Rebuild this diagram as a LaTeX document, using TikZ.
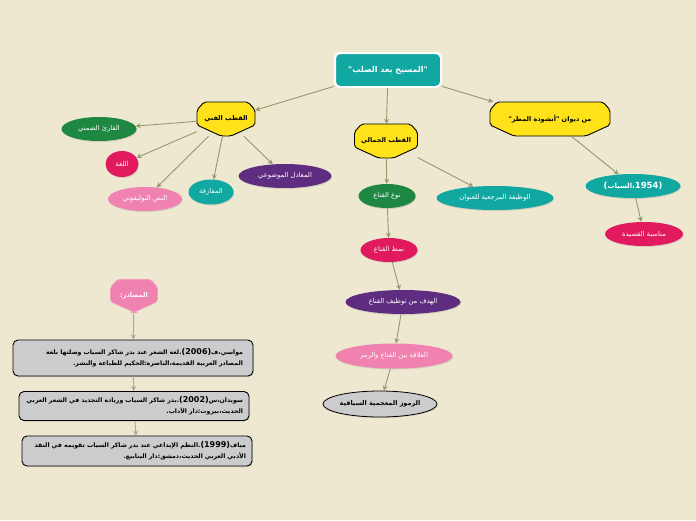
\documentclass[tikz,border=0pt]{standalone}
\usepackage{fontspec}
\newfontfamily\arabicfont[Script=Arabic]{DejaVu Sans}
\newfontfamily\latinfont{DejaVu Sans}
\TeXXeTstate=1
\usetikzlibrary{arrows.meta,shapes.geometric,shadows,calc}

\definecolor{paper}{RGB}{238,232,209}
\definecolor{tealc}{RGB}{18,168,162}
\definecolor{greenc}{RGB}{30,136,66}
\definecolor{crimc}{RGB}{225,25,95}
\definecolor{pinkc}{RGB}{240,130,175}
\definecolor{purpc}{RGB}{95,45,128}
\definecolor{yelc}{RGB}{255,226,26}
\definecolor{greyc}{RGB}{204,204,206}
\definecolor{linkc}{RGB}{145,156,108}

\newcommand\ar[1]{\beginR #1\endR}

\tikzset{
	link/.style={draw=linkc, line width=0.9pt, -{Stealth[length=5pt,width=5pt]}},
	srclink/.style={draw=gray!70, line width=0.9pt, -{Stealth[length=5pt,width=5pt]}},
	bubble/.style={ellipse, inner sep=0pt, text=white,
		font=\arabicfont\fontsize{6.8}{8}\selectfont,
		drop shadow={shadow xshift=0.6pt, shadow yshift=-1pt, opacity=0.25}},
	shieldtext/.style={inner sep=0pt, font=\arabicfont\bfseries\fontsize{6.5}{8}\selectfont},
	refbox/.style={draw=black, line width=0.9pt, fill=greyc, rounded corners=5pt,
		align=right, inner sep=0pt,
		font=\arabicfont\bfseries\fontsize{6.2}{11}\selectfont,
		drop shadow={shadow xshift=0.8pt, shadow yshift=-1pt, opacity=0.3}}
}

% #1 name, #2 x, #3 y, #4 w, #5 h, #6 fill, #7 border, #8 text
\newcommand\shieldbox[8]{%
	\filldraw[line width=0.9pt, fill=#6, draw=#7, rounded corners=2pt]
	($(#2,#3)+(-#4/2+7,-#5/2)$) -- ($(#2,#3)+(#4/2-7,-#5/2)$)
	-- ($(#2,#3)+(#4/2,-#5/2+8)$) -- ($(#2,#3)+(#4/2,#5/2-11)$)
	-- ($(#2,#3)+(#4/2-24,#5/2)$) -- ($(#2,#3)+(-#4/2+24,#5/2)$)
	-- ($(#2,#3)+(-#4/2,#5/2-11)$) -- ($(#2,#3)+(-#4/2,-#5/2+8)$) -- cycle;
	\node[shieldtext, minimum width=#4pt, minimum height=#5pt] (#1) at (#2,#3) {#8};
}

\begin{document}
\begin{tikzpicture}[x=1pt,y=-1pt]
	\fill[paper] (0,0) rectangle (696,520);
	\useasboundingbox (0,0) rectangle (696,520);

	\node[draw=white, line width=2pt, fill=tealc, rounded corners=5pt,
	minimum width=106pt, minimum height=34pt, text=white,
	font=\arabicfont\bfseries\fontsize{8}{9}\selectfont,
	drop shadow={shadow xshift=0.6pt, shadow yshift=-1pt, opacity=0.25}]
	(title) at (388,70) {\ar{"المسيح بعد الصلب"}};

	\shieldbox{fanni}{226}{119}{58}{34}{yelc}{black}{\ar{القطب الفني}}
	\shieldbox{jamali}{386}{141}{63}{34}{yelc}{black}{\ar{القطب الجمالي}}
	\shieldbox{diwan}{550}{119}{120}{34}{yelc}{black}{\ar{من ديوان "أنشودة المطر"}}
	\shieldbox{masadir}{134}{296}{47}{33}{pinkc}{pinkc!80!white}{\color{white}\ar{المصادر:}}

	\node[bubble, fill=greenc, minimum width=75pt, minimum height=24pt] (qari) at (99,129) {\ar{القارئ الضمني}};
	\node[bubble, fill=crimc, minimum width=33pt, minimum height=26pt] (lugha) at (122,164) {\ar{اللغة}};
	\node[bubble, fill=pinkc, minimum width=74pt, minimum height=24pt] (nass) at (145,199) {\ar{النص البوليفوني}};
	\node[bubble, fill=tealc, minimum width=45pt, minimum height=25pt] (mufaraqa) at (211,192) {\ar{المفارقة}};
	\node[bubble, fill=purpc, minimum width=93pt, minimum height=24pt] (muadil) at (285,176) {\ar{المعادل الموضوعي}};

	\node[bubble, fill=greenc, minimum width=57pt, minimum height=24pt] (naw) at (387,196) {\ar{نوع القناع}};
	\node[bubble, fill=tealc, minimum width=117pt, minimum height=24pt] (wazifa) at (495,198) {\ar{الوظيفة المرجعية للعنوان}};
	\node[bubble, fill=crimc, minimum width=57pt, minimum height=24pt] (namat) at (389,250) {\ar{نمط القناع}};
	\node[bubble, fill=purpc, minimum width=115pt, minimum height=24pt] (hadaf) at (403,302) {\ar{الهدف من توظيف القناع}};
	\node[bubble, fill=pinkc, minimum width=117pt, minimum height=25pt] (alaqa) at (394,356) {\ar{العلاقة بين القناع والرمز}};
	\node[bubble, fill=greyc, draw=black, line width=0.8pt, text=black, font=\arabicfont\bfseries\fontsize{6.5}{8}\selectfont,
	minimum width=91pt, minimum height=26pt] (rumuz) at (380,404) {\ar{الرموز المعجمية السياقية}};

	\node[bubble, fill=tealc, minimum width=95pt, minimum height=24pt, font=\bfseries\fontsize{7}{8}\selectfont]
	(sayyab) at (633,186) {{\latinfont\fontsize{8.5}{9}\selectfont(}{\arabicfont\ar{،السياب}}{\latinfont\fontsize{8.5}{9}\selectfont 1954)}};
	\node[bubble, fill=crimc, minimum width=78pt, minimum height=24pt] (munasaba) at (644,234) {\ar{مناسبة القصيدة}};

	\node[refbox, minimum width=240pt, minimum height=36pt, text width=220pt] (ref1) at (133,358)
	{\ar{مواسي،ف\beginL{\fontsize{8}{9}\selectfont(2006)}\endL.لغة الشعر عند بدر شاكر السياب وصلتها بلغة}\\
		\ar{المصادر العربية القديمة،الناصرة:الحكيم للطباعة والنشر.}};
	\node[refbox, minimum width=230pt, minimum height=29pt, text width=218pt] (ref2) at (134,406)
	{\ar{سويدان،س\beginL{\fontsize{8}{9}\selectfont(2002)}\endL.بدر شاكر السياب وريادة التجديد في الشعر العربي}\\
		\ar{الحديث،بيروت:دار الآداب.}};
	\node[refbox, minimum width=230pt, minimum height=30pt, text width=218pt] (ref3) at (137,451)
	{\ar{مباف\beginL{\fontsize{8}{9}\selectfont(1999)}\endL.النظم الإبداعي عند بدر شاكر السياب تقويمه في النقد}\\
		\ar{الأدبي العربي الحديث،دمشق:دار الينابيع.}};

	% connectors
	\draw[link] (title) -- (fanni);
	\draw[link] (title) -- (jamali);
	\draw[link] (title) -- (diwan);
	\foreach \kid in {qari,lugha,nass,mufaraqa,muadil}
	\draw[link] (fanni) -- (\kid);
	\draw[link] (jamali) -- (naw);
	\draw[link] (jamali) -- (wazifa);
	\draw[link] (diwan) -- (sayyab);
	\draw[link] (sayyab) -- (munasaba);
	\draw[link] (naw) -- (namat);
	\draw[link] (namat) -- (hadaf);
	\draw[link] (hadaf) -- (alaqa);
	\draw[link] (alaqa) -- (rumuz);
	\draw[srclink] (masadir) -- (ref1);
	\draw[srclink] (ref1) -- (ref2);
	\draw[srclink] (ref2) -- (ref3);
\end{tikzpicture}
\end{document}
